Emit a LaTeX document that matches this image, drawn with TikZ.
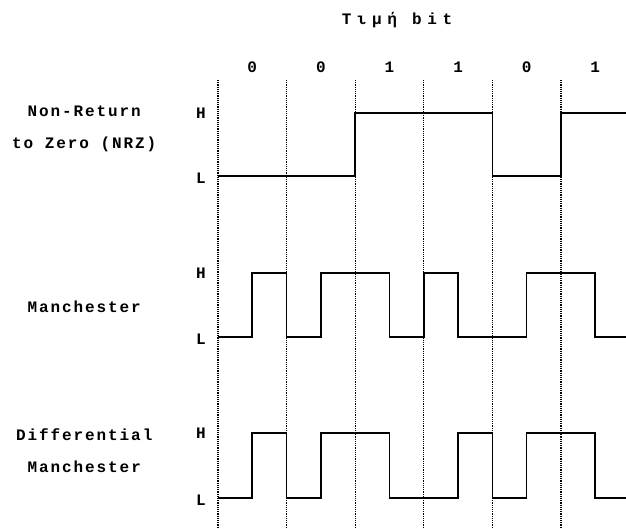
\documentclass[tikz,border=0pt]{standalone}
\usepackage{fontspec}
\newfontfamily\sigfont[LetterSpace=12]{Liberation Mono}
\newfontfamily\headfont[LetterSpace=35]{Liberation Mono}

\begin{document}
\begin{tikzpicture}[x=68.6pt, y=-1pt, font=\sigfont\bfseries\fontsize{16}{32}\selectfont]
\tikzset{
  clock/.style={densely dotted, line width=1.2pt},
  wave/.style={line width=1.6pt, line join=miter},
  signame/.style={align=center},
}
\useasboundingbox (-3.178,0) rectangle (5.948,529);

% bit boundaries
\foreach \i in {0,...,5}
  \draw [clock] (\i,80) -- (\i,529);

% bit values
\node (title) at (2.609, 20) {\headfont\bfseries Τιμή bit};
\foreach \b [count=\i from 0] in {0,0,1,1,0,1}
  \node (bit\i) at (\i+0.5, 67) {\b};

% signal names
\node [signame] (nrz) at (-1.95, 129) {Non-Return\\to Zero (NRZ)};
\node [signame] (man) at (-1.95, 307) {Manchester};
\node [signame] (dman) at (-1.95, 451) {Differential\\Manchester};

% levels
\node (nrzH) at (-0.25, 113) {H};
\node (nrzL) at (-0.25, 178) {L};
\node (manH) at (-0.25, 273) {H};
\node (manL) at (-0.25, 339) {L};
\node (dmanH) at (-0.25, 433) {H};
\node (dmanL) at (-0.25, 500) {L};

% NRZ
\draw [wave] (0,176) -- (2,176) -- (2,113) -- (4,113) -- (4,176) -- (5,176) -- (5,113) -- (5.948,113);

% Manchester
\draw [wave] (0,337) -| (0.5,273) -| (1,337) -| (1.5,273) -| (2.5,337) -| (3,273)
  -| (3.5,337) -| (4.5,273) -| (5.5,337) -- (5.948,337);

% differential Manchester
\draw [wave] (0,498) -| (0.5,433) -| (1,498) -| (1.5,433) -| (2.5,498) -| (3.5,433)
  -| (4,498) -| (4.5,433) -| (5.5,498) -- (5.948,498);
\end{tikzpicture}
\end{document}
